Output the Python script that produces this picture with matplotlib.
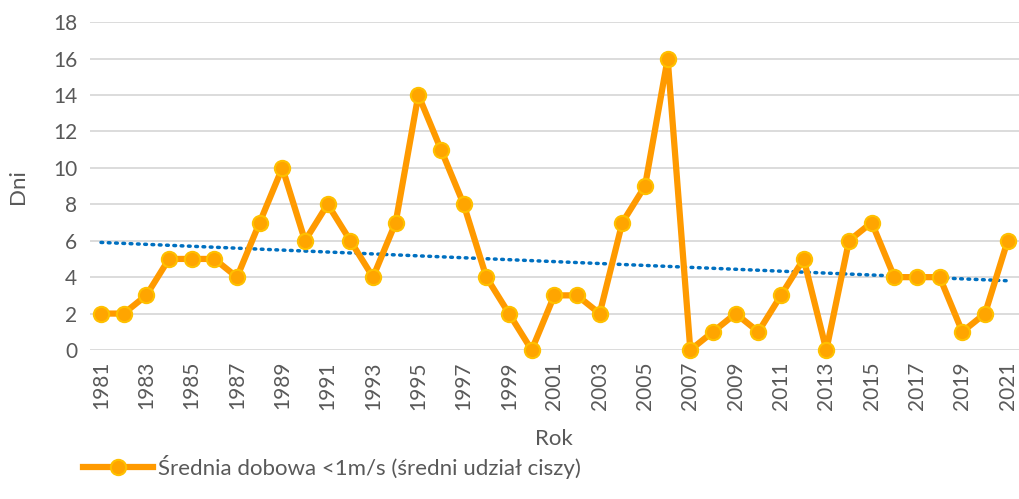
import numpy as np
import matplotlib.pyplot as plt

plt.rcParams['font.family'] = ['Lato', 'DejaVu Sans']

years = list(range(1981, 2022))
days = [2, 2, 3, 5, 5, 5, 4, 7, 10, 6, 8, 6, 4, 7, 14, 11, 8, 4, 2, 0,
        3, 3, 2, 7, 9, 16, 0, 1, 2, 1, 3, 5, 0, 6, 7, 4, 4, 4, 1, 2, 6]
series_label = 'Średnia dobowa <1m/s (średni udział ciszy)'

x = np.array(years)
y = np.array(days, dtype=float)
coef = np.polyfit(x, y, 1)
trend = np.polyval(coef, x)

fig = plt.figure(figsize=(10.19, 4.99), dpi=100)
ax = fig.add_axes([0.088, 0.2986, 0.912, 0.657])

text_col = '#595959'
ax.plot(x, y, color='#FF9A00', lw=4.5, marker='o', ms=11,
        mfc='#FFA500', mec='#FFC000', mew=1.5, label=series_label,
        zorder=3, solid_joinstyle='round', clip_on=False)
ax.plot(x, trend, color='#0070C0', lw=2.5, ls=(0, (0.5, 1.6)),
        dash_capstyle='round', zorder=2)

ax.set_xlim(1980.5, 2021.5)
ax.set_ylim(0, 18)
ax.set_yticks(range(0, 19, 2))
ax.set_xticks(years[::2])
ax.set_xticklabels([str(v) for v in years[::2]], rotation=90)
ax.grid(axis='y', color='#D9D9D9', lw=1.3)
ax.set_axisbelow(True)
for s in ax.spines.values():
    s.set_visible(False)
ax.tick_params(length=0, labelsize=15, colors=text_col, pad=9)
ax.tick_params(axis='x', pad=8)

ax.set_ylabel('Dni', fontsize=16, color=text_col, labelpad=18)
ax.set_xlabel('Rok', fontsize=16, color=text_col, labelpad=14)

fig.legend(loc='lower left', bbox_to_anchor=(0.062, 0.0), frameon=False,
           fontsize=16, labelcolor=text_col, handlelength=3.15,
           handletextpad=0.2)

fig.savefig('out.png', dpi=100)
